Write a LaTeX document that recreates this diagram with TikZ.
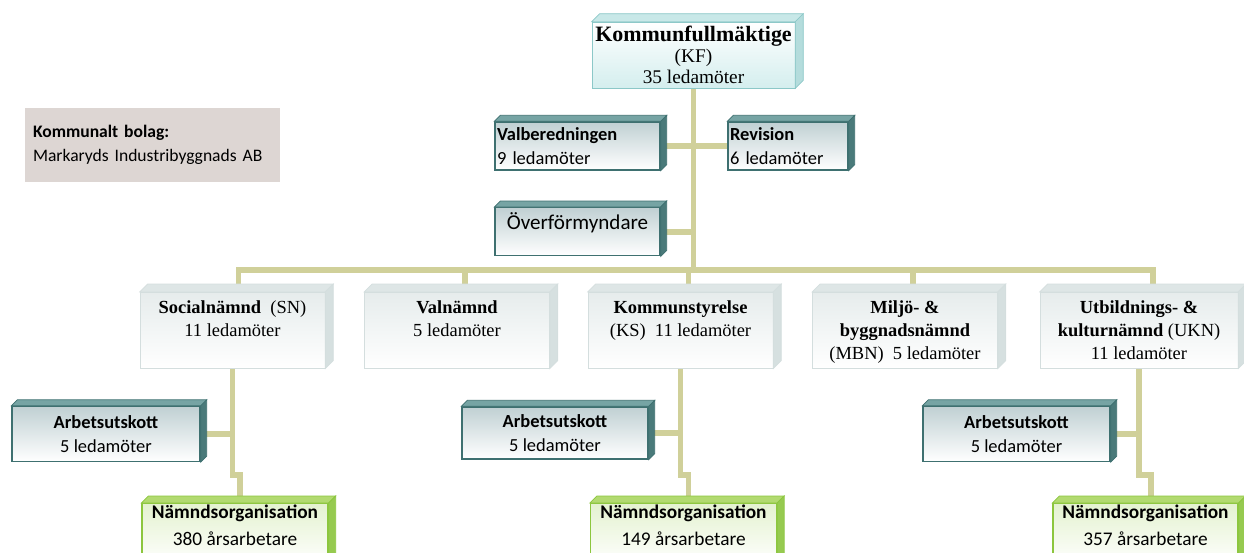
\documentclass[tikz,border=0pt]{standalone}
\usepackage{fontspec}
\setmainfont{Liberation Serif}
\newfontfamily\calfont{Carlito}
\usetikzlibrary{calc,backgrounds}

\definecolor{linkcol}{RGB}{208,208,154}
\definecolor{kfedge}{RGB}{140,200,200}
\definecolor{kffill}{RGB}{212,238,238}
\definecolor{kftop}{RGB}{200,232,232}
\definecolor{kfside}{RGB}{180,220,220}
\definecolor{tealedge}{RGB}{62,112,112}
\definecolor{tealfill}{RGB}{192,208,211}
\definecolor{tealtop}{RGB}{118,164,164}
\definecolor{tealside}{RGB}{74,122,122}
\definecolor{greyedge}{RGB}{212,222,222}
\definecolor{greyfill}{RGB}{230,236,236}
\definecolor{greytop}{RGB}{222,230,230}
\definecolor{greyside}{RGB}{214,224,224}
\definecolor{greenedge}{RGB}{140,198,62}
\definecolor{greenfill}{RGB}{228,242,208}
\definecolor{greentop}{RGB}{178,218,112}
\definecolor{greenside}{RGB}{150,202,80}
\definecolor{bolagfill}{RGB}{221,214,211}

% top and right face of an extruded box: node, depth, top, side, edge
\newcommand{\slab}[5]{%
  \filldraw[fill=#3,draw=#5] (#1.north west) -- ++(#2,-#2) -- ($(#1.north east)+(#2,-#2)$) -- (#1.north east) -- cycle;
  \filldraw[fill=#4,draw=#5] (#1.north east) -- ++(#2,-#2) -- ($(#1.south east)+(#2,-#2)$) -- (#1.south east) -- cycle;
}

\begin{document}
\begin{tikzpicture}[x=0.02cm,y=-0.02cm,
  link/.style={draw=linkcol,line width=3.4pt},
  kfbox/.style={draw=kfedge,top color=white,bottom color=kffill,minimum width=4.06cm,minimum height=1.32cm,align=center,inner sep=0pt,font=\fontsize{11}{12}\selectfont},
  tealbox/.style={draw=tealedge,line width=0.8pt,top color=tealfill,bottom color=white,minimum height=0.96cm,inner sep=0.04cm,font=\calfont\fontsize{10.5}{14}\selectfont},
  greybox/.style={draw=greyedge,top color=greyfill,bottom color=white,minimum width=3.7cm,align=center,inner ysep=0pt,text height=25.1pt,text depth=18pt,anchor=north,font=\fontsize{10.5}{13.2}\selectfont},
  threelines/.style={text height=38.3pt,text depth=4.8pt},
  greenbox/.style={draw=greenedge,line width=0.8pt,top color=greenfill,bottom color=white,minimum width=3.72cm,align=center,inner ysep=0pt,text height=23.8pt,text depth=11.2pt,anchor=north,font=\calfont\fontsize{11}{15.3}\selectfont},
]
\clip (0,0) rectangle (1244,552);

\node[fill=bolagfill,minimum width=5.1cm,minimum height=1.48cm,inner xsep=0.16cm,text width=4.78cm,align=left,font=\calfont\fontsize{10}{13.6}\selectfont] (KB) at (152.5,145) {\textbf{Kommunalt bolag:}\\Markaryds Industribyggnads AB};

\node[kfbox] (KF) at (693.5,55) {{\fontsize{12.5}{12}\selectfont\textbf{Kommunfullmäktige}}\\(KF)\\35 ledamöter};

\node[tealbox,minimum width=3.3cm,text width=3.22cm,align=left] (VB) at (577.5,146) {\textbf{Valberedningen}\\9 ledamöter};
\node[tealbox,minimum width=2.4cm,text width=2.32cm,align=left] (REV) at (788,146) {\textbf{Revision}\\6 ledamöter};
\node[tealbox,minimum width=3.3cm,anchor=north,inner ysep=0pt,text height=11.9pt,text depth=14.2pt,font=\calfont\fontsize{12}{14}\selectfont] (OF) at (577.5,207) {Överförmyndare};

\node[greybox] (SN) at (232.5,292) {\textbf{Socialnämnd}\ \ (SN)\\11 ledamöter};
\node[greybox] (VN) at (457,292) {\textbf{Valnämnd}\\5 ledamöter};
\node[greybox] (KS) at (680.5,292) {\textbf{Kommunstyrelse}\\(KS)\ \ 11 ledamöter};
\node[greybox,threelines] (MBN) at (905,292) {\textbf{Miljö- \&}\\\textbf{byggnadsnämnd}\\(MBN)\ \ 5 ledamöter};
\node[greybox,threelines,minimum width=3.96cm] (UKN) at (1139,292) {\textbf{Utbildnings- \&}\\\textbf{kulturnämnd} (UKN)\\11 ledamöter};

\node[tealbox,minimum width=3.76cm,minimum height=1.1cm,align=center] (AU1) at (106,434) {\textbf{Arbetsutskott}\\5 ledamöter};
\node[tealbox,minimum width=3.72cm,minimum height=1.04cm,align=center] (AU2) at (555,433) {\textbf{Arbetsutskott}\\5 ledamöter};
\node[tealbox,minimum width=3.74cm,minimum height=1.1cm,align=center] (AU3) at (1016.5,434) {\textbf{Arbetsutskott}\\5 ledamöter};

\node[greenbox] (NO1) at (235,503) {\textbf{Nämndsorganisation}\\380 årsarbetare};
\node[greenbox] (NO2) at (683.5,503) {\textbf{Nämndsorganisation}\\149 årsarbetare};
\node[greenbox,minimum width=3.7cm] (NO3) at (1145.5,503) {\textbf{Nämndsorganisation}\\357 årsarbetare};

\slab{KF}{8}{kftop}{kfside}{kfedge}
\foreach \n in {VB,REV,OF,AU1,AU2,AU3}
  {\slab{\n}{6}{tealtop}{tealside}{tealedge}}
\foreach \n in {SN,VN,KS,MBN,UKN}
  {\slab{\n}{8}{greytop}{greyside}{greyedge}}
\foreach \n in {NO1,NO2,NO3}
  {\slab{\n}{7}{greentop}{greenside}{greenedge}}

\begin{scope}[on background layer]
\draw[link] (KF.south) -- (KF.south |- 0,270);
\draw[link] (VB.east) -- (REV.west);
\draw[link] (OF.east) -- (OF.east -| KF.south);
\draw[link] ($(SN.north)+(6,0)$) -- ++(0,-22) -- ($(UKN.north)+(14,-22)$) -- ++(0,22);
\foreach \n in {VN,KS,MBN}
  \draw[link] ($(\n.north)+(8,0)$) -- ++(0,-22);
\foreach \top/\au/\no in {SN/AU1/NO1,KS/AU2/NO2,UKN/AU3/NO3} {
  \draw[link] (\top.south) -- ($(\top.south)+(0,107)$) -| ($(\no.north)+(5,0)$);
  \draw[link] (\au.east) -- (\au.east -| \top.south);
}
\end{scope}
\end{tikzpicture}
\end{document}
